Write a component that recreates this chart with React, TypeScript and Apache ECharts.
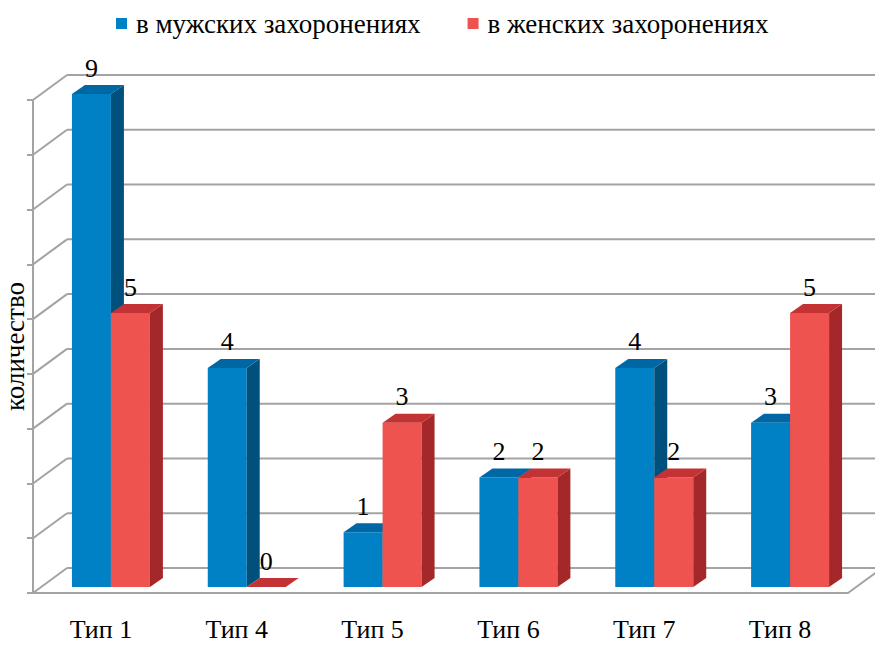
import React, { useEffect, useRef } from "react";
import * as echarts from "echarts";

const categories = ["Тип 1", "Тип 4", "Тип 5", "Тип 6", "Тип 7", "Тип 8"];
const maleValues = [9, 4, 1, 2, 4, 3];
const femaleValues = [5, 0, 3, 2, 2, 5];
const yTicks = [0, 1, 2, 3, 4, 5, 6, 7, 8, 9];
const seriesNames = ["в мужских захоронениях", "в женских захоронениях"];
const axisName = "количество";

const FONT = "Liberation Serif";
const WALL_DX = 34;
const WALL_DY = 25;
const BAR_DX = 10;
const BAR_DY = -6;
const DEPTH_X = 13;
const DEPTH_Y = 9;
const GRID_COLOR = "#a3a3a3";

const blueColors = { front: "#0081C6", side: "#00507E", top: "#0067A5" };
const redColors = { front: "#EF5350", side: "#A4282A", top: "#C33234" };

function makeBarRenderer(side: number, colors: { front: string; side: string; top: string }) {
  return (params: any, api: any) => {
    const cat = api.value(0);
    const val = api.value(1);
    const base = api.coord([cat, 0]);
    const top = api.coord([cat, val]);
    const band = api.size([1, 0])[0];
    const w = band * 0.287;
    const cx = base[0] + BAR_DX;
    const x0 = side < 0 ? cx - w : cx;
    const yb = base[1] + BAR_DY;
    const yt = top[1] + BAR_DY;
    return {
      type: "group",
      children: [
        {
          type: "rect",
          shape: { x: x0, y: yt, width: w, height: yb - yt },
          style: { fill: colors.front },
        },
        {
          type: "polygon",
          shape: {
            points: [
              [x0 + w, yt],
              [x0 + w + DEPTH_X, yt - DEPTH_Y],
              [x0 + w + DEPTH_X, yb - DEPTH_Y],
              [x0 + w, yb],
            ],
          },
          style: { fill: colors.side },
        },
        {
          type: "polygon",
          shape: {
            points: [
              [x0, yt],
              [x0 + DEPTH_X, yt - DEPTH_Y],
              [x0 + w + DEPTH_X, yt - DEPTH_Y],
              [x0 + w, yt],
            ],
          },
          style: { fill: colors.top },
        },
        {
          type: "text",
          z2: 100,
          style: {
            text: String(val),
            x: x0 + w / 2,
            y: yt - 13,
            align: "center",
            verticalAlign: "bottom",
            fill: "#000",
            fontFamily: FONT,
            fontSize: 26,
          },
        },
      ],
    };
  };
}

function wallRenderer(params: any, api: any) {
  const v = api.value(1);
  const cs = params.coordSys;
  const yF = api.coord([0, v])[1];
  const left = cs.x;
  const right = cs.x + cs.width;
  const children: any[] = [
    {
      type: "line",
      shape: { x1: left, y1: yF, x2: left + WALL_DX, y2: yF - WALL_DY },
      style: { stroke: GRID_COLOR, lineWidth: 2 },
    },
    {
      type: "line",
      shape: { x1: left + WALL_DX, y1: yF - WALL_DY, x2: right + WALL_DX, y2: yF - WALL_DY },
      style: { stroke: GRID_COLOR, lineWidth: 2 },
    },
  ];
  if (v === 0) {
    children.push({
      type: "line",
      shape: { x1: right, y1: yF, x2: right + WALL_DX, y2: yF - WALL_DY },
      style: { stroke: GRID_COLOR, lineWidth: 2 },
    });
  }
  return { type: "group", children };
}

export default function App() {
  const ref = useRef<HTMLDivElement>(null);
  useEffect(() => {
    if (!ref.current) return;
    const chart = echarts.init(ref.current, undefined, { renderer: "svg" });
    chart.setOption({
      animation: false,
      backgroundColor: "#fff",
      textStyle: { fontFamily: FONT },
      legend: {
        top: 5,
        left: 111,
        itemWidth: 11,
        itemHeight: 11,
        itemGap: 47,
        icon: "rect",
        textStyle: { fontFamily: FONT, fontSize: 27, color: "#000", padding: [0, 0, 0, 4] },
        data: [
          { name: seriesNames[0], itemStyle: { color: blueColors.front } },
          { name: seriesNames[1], itemStyle: { color: redColors.front } },
        ],
      },
      grid: { left: 33, top: 100, width: 815, height: 493, outerBoundsMode: "none", containLabel: false },
      xAxis: {
        type: "category",
        data: categories,
        axisLine: { show: true, lineStyle: { color: GRID_COLOR, width: 2 } },
        axisTick: { show: false },
        axisLabel: { fontFamily: FONT, fontSize: 26, lineHeight: 24, color: "#000", margin: 24 },
        splitLine: { show: false },
      },
      yAxis: {
        type: "value",
        min: 0,
        max: 9,
        interval: 1,
        name: axisName,
        nameLocation: "middle",
        nameRotate: 90,
        nameGap: 5,
        nameTextStyle: { fontFamily: FONT, fontSize: 27, color: "#000" },
        axisLine: { show: true, lineStyle: { color: GRID_COLOR, width: 2 } },
        axisTick: { show: true, length: 6, lineStyle: { color: GRID_COLOR, width: 2 } },
        axisLabel: { show: false },
        splitLine: { show: false },
      },
      series: [
        {
          type: "custom",
          name: "wall",
          silent: true,
          z: 1,
          renderItem: wallRenderer,
          encode: { x: 0, y: 1 },
          data: yTicks.map((v) => [0, v]),
          clip: false,
        },
        {
          type: "custom",
          name: seriesNames[0],
          z: 2,
          renderItem: makeBarRenderer(-1, blueColors),
          encode: { x: 0, y: 1 },
          data: maleValues.map((v, i) => [i, v]),
          itemStyle: { color: blueColors.front },
          clip: false,
        },
        {
          type: "custom",
          name: seriesNames[1],
          z: 3,
          renderItem: makeBarRenderer(1, redColors),
          encode: { x: 0, y: 1 },
          data: femaleValues.map((v, i) => [i, v]),
          itemStyle: { color: redColors.front },
          clip: false,
        },
      ],
    });
    return () => chart.dispose();
  }, []);
  return (
    <div style={{ position: "fixed", left: 0, top: 0, width: 875, height: 646 }}>
      <div ref={ref} style={{ width: 875, height: 646 }} />
    </div>
  );
}
